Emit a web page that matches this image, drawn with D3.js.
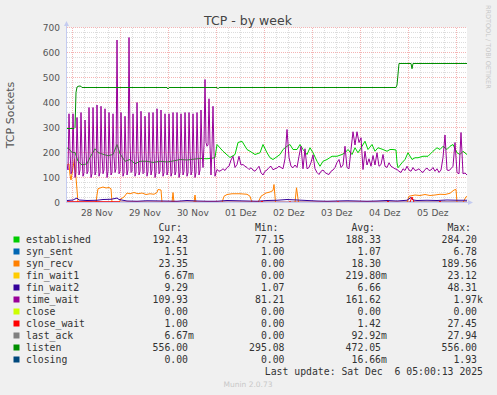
<!DOCTYPE html>
<html>
<head>
<meta charset="utf-8">
<script src="https://cdn.jsdelivr.net/npm/d3@7"></script>
<style>
  body { margin: 0; background: #f0f0f0; }
  svg { display: block; }
  text { font-family: "DejaVu Sans", sans-serif; }
  .mono { font-family: "DejaVu Sans Mono", monospace; white-space: pre; }
</style>
</head>
<body>
<div id="chart"></div>
<script>
// hours are counted from the left edge of the graph (27 Nov 21:20)
const startTime = new Date(2025, 10, 27, 21, 20);
const endTime = new Date(2025, 11, 6, 5, 20);

// time_wait, first three days: one value per half hour (hour 0 .. 74.5)
const timeWaitEarly = [
  150, 130,
  355, 210, 115, 125, 355, 195, 100, 120, 340, 200, 110, 130, 360, 185, 105, 120,
  330, 205, 115, 125, 380, 190, 100, 115, 380, 210, 110, 125, 390, 200, 105, 120,
  385, 190, 115, 130, 375, 205, 100, 125, 360, 195, 110, 120, 355, 185, 120, 135,
  650, 230, 115, 125, 360, 200, 105, 120, 345, 190, 110, 130, 660, 240, 120, 125,
  355, 195, 105, 120, 400, 205, 110, 125, 365, 190, 115, 120, 345, 200, 105, 125,
  360, 185, 110, 130, 360, 195, 100, 120, 375, 205, 115, 125, 370, 190, 105, 120,
  355, 200, 110, 125, 355, 195, 105, 120, 360, 185, 110, 125, 360, 200, 100, 120,
  355, 190, 110, 125, 360, 195, 105, 120, 360, 205, 110, 125, 355, 190, 100, 120,
  360, 200, 110, 130, 370, 210, 140, 230, 492, 240, 225, 230, 415, 230, 110, 220,
  385, 200, 105, 120
];
// time_wait, rest of the week: one value per hour (hour 75 .. 200)
const timeWaitLate = [
  132, 125, 128, 135, 128,
  140, 145, 170, 185, 140, 152, 185, 150, 152, 145, 140, 132, 139, 130, 125, 135, 145, 119, 110, 125,
  130, 140, 145, 131, 135, 138, 145, 140, 135, 175, 292, 180, 145, 139, 150, 140, 185, 225, 135, 215,
  135, 140, 160, 190, 135, 120, 112, 125, 130, 120, 115, 112, 125, 130, 140, 160, 172, 140, 150, 225,
  140, 135, 212, 283, 230, 283, 240, 259, 132, 205, 150, 175, 145, 188, 150, 199, 145, 152, 192, 145,
  140, 159, 145, 140, 135, 132, 125, 120, 135, 128, 145, 130, 125, 140, 128, 130, 135, 125, 120, 132,
  138, 128, 130, 140, 125, 135, 120, 130, 180, 270, 130, 128, 135, 145, 240, 120, 115, 280, 115, 118,
  110
];

// [hour, value]
const established = [
  [0, 215], [0.5, 219], [2.5, 200], [4, 200], [5.5, 165], [7.5, 150], [10, 155], [11.5, 180], [14, 215],
  [15.5, 200], [18, 193], [20.5, 187], [23, 192], [25, 232], [26.5, 195], [29, 165], [31.5, 172], [34, 155],
  [36.5, 165], [40, 165], [43, 160], [46.5, 165], [50, 162], [53, 166], [56.5, 172], [60, 170], [63, 173],
  [66.5, 176], [70, 175], [73, 178], [74, 180], [75, 232], [78, 205], [81.5, 180], [84, 192], [85.5, 240],
  [87.5, 245], [90, 212], [91.5, 205], [94, 192], [96.5, 199], [98, 232], [100, 199], [101.5, 179], [103, 172],
  [106.5, 192], [108, 212], [110, 225], [111.5, 232], [113, 212], [115, 212], [116.5, 232], [118, 212],
  [120, 192], [121.5, 219], [123, 199], [125, 165], [126.5, 145], [128, 165], [130, 172], [132.5, 185],
  [135, 185], [137.5, 192], [139, 199], [140.5, 212], [142.5, 192], [144, 219], [145.5, 199], [147.5, 225],
  [149, 245], [150.5, 212], [152.5, 232], [154, 205], [155.5, 219], [158, 212], [160, 205], [161.5, 212],
  [163, 212], [164.5, 210], [165, 159], [165.5, 139], [167.5, 159], [169, 172], [170.5, 199], [172.5, 172],
  [174, 179], [175.5, 179], [178, 185], [180.5, 185], [183, 205], [185, 219], [186.5, 212], [188, 225],
  [190, 212], [191.5, 225], [193, 232], [195, 199], [196.5, 192], [198, 205], [199.5, 195], [200, 192]
];

const listen = [
  [0, 296], [3.5, 296], [4, 300], [4.5, 440], [5, 462], [6, 466], [7, 465], [7.5, 460], [50, 460],
  [50.5, 454], [51, 460], [75, 460], [75.5, 455], [76, 460], [164.5, 460], [165, 470], [166, 556],
  [172, 556], [172.5, 535], [173, 556], [200, 556]
];

const synRecv = [
  [0, 150], [1, 155], [1.5, 110], [2, 90], [3, 140], [3.75, 175], [4.25, 120], [4.5, 100], [5, 50], [5.5, 0],
  [14.5, 0], [15, 30], [15.5, 55], [16.5, 58], [18, 62], [19.5, 58], [21, 60], [22, 55], [22.5, 0],
  [26, 0], [27, 15], [28.5, 22], [30, 38], [31.5, 35], [33.5, 40], [35.5, 35], [37.5, 38], [39.5, 32],
  [41.5, 35], [43.5, 33], [45, 40], [45.5, 52], [47, 50], [47.5, 0], [52.5, 0], [53, 40], [53.5, 0],
  [63.5, 0], [64, 30], [64.5, 0], [77.5, 0], [78.5, 25], [80, 32], [82.5, 35], [86.5, 35], [90, 33],
  [91.5, 25], [92.5, 0], [95.5, 0], [97, 25], [99.5, 38], [101.5, 42], [103, 48], [103.5, 72], [104.25, 0],
  [114, 0], [114.75, 59], [115.75, 0], [170, 0], [171, 25], [174, 30], [176.5, 28], [179, 32], [181.5, 28],
  [184, 30], [186.5, 33], [189, 32], [191.5, 37], [193.5, 50], [194.5, 52], [195, 0], [198, 0], [199.5, 23],
  [200, 23]
];

const finWait2 = [
  [0, 8], [3, 10], [5, 18], [6, 10], [10, 8], [15, 9], [18, 12], [22, 13], [24, 16], [25, 18], [26, 12],
  [30, 6], [35, 5], [40, 7], [48, 6], [55, 5], [60, 8], [65, 6], [70, 5], [75, 5], [80, 8], [85, 7],
  [90, 6], [95, 5], [100, 8], [105, 9], [110, 12], [115, 10], [120, 8], [125, 6], [130, 5], [135, 6],
  [140, 7], [145, 6], [150, 5], [155, 6], [160, 8], [165, 6], [170, 9], [172, 20], [173, 10], [175, 8],
  [180, 9], [185, 8], [190, 10], [195, 9], [200, 9]
];

const closeWait = [
  [0, 3], [26, 3], [26.5, 1], [97, 1], [97.5, 6], [98, 1], [111, 1], [111.5, 5], [112, 1], [135, 1],
  [135.5, 5], [136, 1], [160, 1], [160.5, 6], [161, 1], [171.5, 1], [172.5, 22], [173.5, 1], [186, 1],
  [186.5, 6], [187, 1], [200, 1]
];

const synSent = [[0, 1], [100, 1], [200, 1.5]];
const zeroLine = [[0, 0], [200, 0]];

const legendNames = ['established', 'syn_sent', 'syn_recv', 'fin_wait1', 'fin_wait2', 'time_wait',
  'close', 'close_wait', 'last_ack', 'listen', 'closing'];
const legendColors = ['#00cc00', '#0066b3', '#ff8000', '#ffcc00', '#330099', '#990099',
  '#ccff00', '#ff0000', '#808080', '#008f00', '#00487d'];
const curVals = ['192.43', '1.51', '23.35', '6.67m', '9.29', '109.93', '0.00', '1.00', '6.67m', '556.00', '0.00'];
const minVals = ['77.15', '1.00', '0.00', '0.00', '1.07', '81.21', '0.00', '0.00', '0.00', '295.08', '0.00'];
const avgVals = ['188.33', '1.07', '18.30', '219.80m', '6.66', '161.62', '0.00', '1.42', '92.92m', '472.05', '16.66m'];
const maxVals = ['284.20', '6.78', '189.56', '23.12', '48.31', '1.97k', '0.00', '27.45', '27.94', '556.00', '1.93'];
const colHeads = ['Cur:', 'Min:', 'Avg:', 'Max:'];

const yTicks = [0, 100, 200, 300, 400, 500, 600, 700];
const xTickLabels = ['28 Nov', '29 Nov', '30 Nov', '01 Dez', '02 Dez', '03 Dez', '04 Dez', '05 Dez'];

const w = 497, h = 395;
const pLeft = 67, pRight = 467, pTop = 27.5, pBottom = 202.5;

const svg = d3.select('#chart').append('svg').attr('width', w).attr('height', h);
svg.append('rect').attr('width', w).attr('height', h).attr('fill', '#f0f0f0');

const x = d3.scaleTime().domain([startTime, endTime]).range([pLeft, pRight]);
const y = d3.scaleLinear().domain([0, 700]).range([pBottom, pTop]);
const at = hr => new Date(+startTime + hr * 3600e3);

svg.append('rect').attr('x', pLeft).attr('y', pTop).attr('width', pRight - pLeft).attr('height', pBottom - pTop)
  .attr('fill', '#fff');

//grid
const grid = svg.append('g').attr('shape-rendering', 'crispEdges');
const minorY = d3.range(20, 700, 20).filter(v => v % 100 != 0);
grid.selectAll('.hmin').data(minorY).enter().append('line')
  .attr('x1', pLeft).attr('x2', pRight).attr('y1', d => y(d)).attr('y2', d => y(d))
  .attr('stroke', '#dcdcdc').attr('stroke-dasharray', '1,1');
const days = d3.timeDay.range(startTime, endTime);
const sixHours = d3.timeHour.every(6).range(startTime, endTime).filter(d => d.getHours() != 0);
grid.selectAll('.vmin').data(sixHours).enter().append('line')
  .attr('x1', d => Math.round(x(d)) + 0.5).attr('x2', d => Math.round(x(d)) + 0.5)
  .attr('y1', pTop).attr('y2', pBottom)
  .attr('stroke', '#dcdcdc').attr('stroke-dasharray', '1,1');
grid.selectAll('.hmaj').data(yTicks.slice(1)).enter().append('line')
  .attr('x1', pLeft).attr('x2', pRight).attr('y1', d => y(d)).attr('y2', d => y(d))
  .attr('stroke', '#f4b4b4').attr('stroke-dasharray', '1,1');
grid.selectAll('.vmaj').data(days).enter().append('line')
  .attr('x1', d => Math.round(x(d)) + 0.5).attr('x2', d => Math.round(x(d)) + 0.5)
  .attr('y1', pTop).attr('y2', pBottom)
  .attr('stroke', '#f4b4b4').attr('stroke-dasharray', '1,1');

//lines
svg.append('clipPath').attr('id', 'clip').append('rect')
  .attr('x', pLeft).attr('y', pTop - 2).attr('width', pRight - pLeft).attr('height', pBottom - pTop + 3);
const line = d3.line().x(d => x(at(d[0]))).y(d => y(d[1]));
const plot = svg.append('g').attr('clip-path', 'url(#clip)').attr('fill', 'none').attr('stroke-width', 1);

const timeWait = timeWaitEarly.map((v, i) => [i / 2, v])
  .concat(timeWaitLate.map((v, i) => [75 + i, v]));

const series = [
  [established, '#00cc00'],
  [synSent, '#0066b3'],
  [synRecv, '#ff8000'],
  [zeroLine, '#ffcc00'],
  [finWait2, '#330099'],
  [timeWait, '#990099'],
  [zeroLine, '#ccff00'],
  [closeWait, '#ff0000'],
  [zeroLine, '#808080'],
  [listen, '#008f00'],
  [zeroLine, '#00487d']
];
series.forEach(s => {
  plot.append('path').attr('d', line(s[0])).attr('stroke', s[1]);
});

//axes
const axisColor = '#c4cbf0';
svg.append('line').attr('x1', pLeft - 0.5).attr('x2', pLeft - 0.5).attr('y1', pBottom + 0.5).attr('y2', 24)
  .attr('stroke', axisColor);
svg.append('line').attr('x1', pLeft - 1).attr('x2', 469).attr('y1', pBottom).attr('y2', pBottom)
  .attr('stroke', axisColor);
svg.append('path').attr('d', `M${pLeft - 3},26 L${pLeft - 0.5},21 L${pLeft + 2},26 Z`).attr('fill', axisColor);
svg.append('path').attr('d', `M468,${pBottom - 2.5} L473,${pBottom} L468,${pBottom + 2.5} Z`).attr('fill', axisColor);

const yAxis = d3.axisLeft(y).tickValues(yTicks).tickSize(0).tickPadding(7);
const yg = svg.append('g').attr('transform', `translate(${pLeft},0)`).call(yAxis);
yg.select('.domain').remove();
yg.selectAll('text').attr('fill', '#555').style('font-size', '9px').style('font-family', '"DejaVu Sans"');

const noonTicks = xTickLabels.map((d, i) => d3.timeHour.offset(days[i], 12));
const xAxis = d3.axisBottom(x).tickValues(noonTicks).tickFormat((d, i) => xTickLabels[i]).tickSize(0).tickPadding(7);
const xg = svg.append('g').attr('transform', `translate(0,${pBottom})`).call(xAxis);
xg.select('.domain').remove();
xg.selectAll('text').attr('fill', '#555').style('font-size', '9px').style('font-family', '"DejaVu Sans"');

//titles
svg.append('text').attr('x', 248).attr('y', 24.5).attr('text-anchor', 'middle')
  .attr('fill', '#444').style('font-size', '12.5px').text('TCP - by week');
svg.append('text').attr('transform', 'translate(14,115) rotate(-90)').attr('text-anchor', 'middle')
  .attr('fill', '#555').style('font-size', '11px').text('TCP Sockets');
svg.append('text').attr('transform', 'translate(485.5,5) rotate(90)')
  .attr('fill', '#c8c8c8').style('font-size', '6.5px').text('RRDTOOL / TOBI OETIKER');

//legend
const rowY = i => 239.5 + i * 12;
const colEnds = [188, 284.5, 381, 477];
const legend = svg.append('g').attr('class', 'mono').style('font-size', '9.8px').attr('fill', '#333');

colHeads.forEach((c, j) => {
  legend.append('text').attr('class', 'mono').attr('x', colEnds[j] - 6).attr('y', 227.5 + 3.5)
    .attr('text-anchor', 'end').text(c);
});

legend.selectAll('rect').data(legendNames).enter().append('rect')
  .attr('x', 13.5).attr('y', (d, i) => rowY(i) - 3).attr('width', 6).attr('height', 6)
  .attr('fill', (d, i) => legendColors[i]);

legend.selectAll('.name').data(legendNames).enter().append('text').attr('class', 'mono')
  .attr('x', 26).attr('y', (d, i) => rowY(i) + 3.5).text(d => d);

[curVals, minVals, avgVals, maxVals].forEach((vals, j) => {
  vals.forEach((v, i) => {
    const unit = /[mk]$/.test(v) ? v.slice(-1) : '';
    const num = unit ? v.slice(0, -1) : v;
    legend.append('text').attr('class', 'mono').attr('x', colEnds[j]).attr('y', rowY(i) + 3.5)
      .attr('text-anchor', 'end').text(num);
    if (unit) {
      legend.append('text').attr('class', 'mono').attr('x', colEnds[j]).attr('y', rowY(i) + 3.5).text(unit);
    }
  });
});

legend.append('text').attr('class', 'mono').attr('x', 483).attr('y', 371.5 + 3.5).attr('text-anchor', 'end')
  .text('Last update: Sat Dec  6 05:00:13 2025');

svg.append('text').attr('x', 248).attr('y', 387).attr('text-anchor', 'middle')
  .attr('fill', '#c8c8c8').style('font-size', '7.5px').text('Munin 2.0.73');
</script>
</body>
</html>
